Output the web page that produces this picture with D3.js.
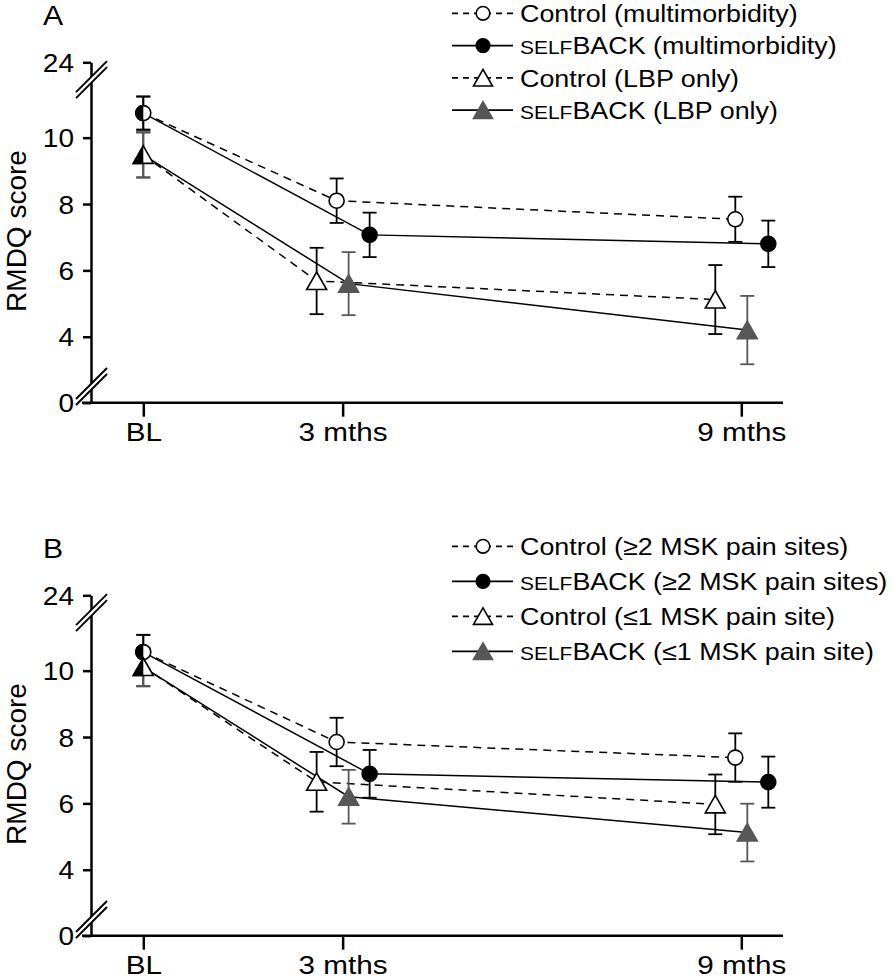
<!DOCTYPE html>
<html>
<head>
<meta charset="utf-8">
<script src="https://cdn.jsdelivr.net/npm/d3@7"></script>
<style>
  html, body { margin: 0; padding: 0; background: #ffffff; }
  svg { display: block; }
  text { font-family: "Liberation Sans", Arial, Helvetica, sans-serif; fill: #000; }
</style>
</head>
<body>
<div id="chart"></div>
<script>
// ---------------- DATA ----------------
const timepoints = [0, 3, 9];                 // months
const xLabels = ["BL", "3 mths", "9 mths"];
const yTicks = [0, 4, 6, 8, 10, 24];
const yBreaks = [2.5, 11.75];                 // axis break positions (value space)

// Panel A
const labelsA = ["Control (multimorbidity)", "SELFBACK (multimorbidity)", "Control (LBP only)", "SELFBACK (LBP only)"];
const ctrlMultiMean = [10.74, 8.10, 7.54];
const ctrlMultiErr  = [0.50, 0.67, 0.68];
const sbMultiMean   = [10.74, 7.07, 6.80];
const sbMultiErr    = [0.50, 0.67, 0.70];
const ctrlLbpMean   = [9.48, 5.68, 5.12];
const ctrlLbpErr    = [0.68, 1.00, 1.04];
const sbLbpMean     = [9.48, 5.60, 4.20];
const sbLbpErr      = [0.68, 0.95, 1.03];

// Panel B
const labelsB = ["Control (\u22652 MSK pain sites)", "SELFBACK (\u22652 MSK pain sites)", "Control (\u22641 MSK pain site)", "SELFBACK (\u22641 MSK pain site)"];
const ctrlMsk2Mean = [10.56, 7.85, 7.38];
const ctrlMsk2Err  = [0.52, 0.73, 0.73];
const sbMsk2Mean   = [10.56, 6.89, 6.64];
const sbMsk2Err    = [0.52, 0.72, 0.77];
const ctrlMsk1Mean = [10.11, 6.65, 5.97];
const ctrlMsk1Err  = [0.58, 0.90, 0.90];
const sbMsk1Mean   = [10.11, 6.20, 5.12];
const sbMsk1Err    = [0.58, 0.81, 0.87];

// ---------------- STYLE / LAYOUT ----------------
const W = 896, H = 980;
const SX = 1.12;            // horizontal stretch of text seen in the reference
const GRAY = "#575757";
const styles = [
  { shape: "circle",   fill: "#fff", stroke: "#000", dashed: true,  dx: -6,  half: false },
  { shape: "circle",   fill: "#000", stroke: "#000", dashed: false, dx: 27,  half: true  },
  { shape: "triangle", fill: "#fff", stroke: "#000", dashed: true,  dx: -26, half: false },
  { shape: "triangle", fill: GRAY,   stroke: GRAY,   dashed: false, dx: 6,   half: true  }
];

const panels = [
  { id: "A", top: 0,   legendStep: 32.3, labels: labelsA,
    means: [ctrlMultiMean, sbMultiMean, ctrlLbpMean, sbLbpMean],
    errs:  [ctrlMultiErr, sbMultiErr, ctrlLbpErr, sbLbpErr] },
  { id: "B", top: 533, legendStep: 35, labels: labelsB,
    means: [ctrlMsk2Mean, sbMsk2Mean, ctrlMsk1Mean, sbMsk1Mean],
    errs:  [ctrlMsk2Err, sbMsk2Err, ctrlMsk1Err, sbMsk1Err] }
];

const svg = d3.select("#chart").append("svg").attr("width", W).attr("height", H);

const xScale = d3.scaleLinear().domain([0, 9]).range([143.3, 741.3]);
const AXIS_X = 91;

function markerPath(shape, r) {
  if (shape === "circle") {
    const rr = r || 7.5;
    return `M${-rr},0A${rr},${rr} 0 1,0 ${rr},0A${rr},${rr} 0 1,0 ${-rr},0Z`;
  }
  const s = r || 10;
  return `M0,${-s * 1.0}L${s},${s * 0.75}L${-s},${s * 0.75}Z`;
}

function stretchedText(sel, x, y, str, size, anchor) {
  return sel.append("text")
    .attr("transform", `translate(${x},${y}) scale(${SX},1)`)
    .attr("text-anchor", anchor || "start")
    .attr("font-size", size)
    .text(str);
}

// clip for half markers at baseline
const defs = svg.append("defs");
defs.append("clipPath").attr("id", "leftHalf")
  .append("rect").attr("x", xScale(0) - 20).attr("y", 0).attr("width", 20).attr("height", H);

panels.forEach(p => {
  const g = svg.append("g").attr("transform", `translate(0,${p.top})`);
  const y = d3.scaleLinear().domain([0, 2.5, 11.75, 24]).range([402.7, 386.5, 79.6, 62.3]);

  // panel letter
  stretchedText(g, 43, 25, p.id, 27, "start");

  // y axis label
  g.append("text")
    .attr("transform", `translate(25.5,231) rotate(-90)`)
    .attr("text-anchor", "middle")
    .attr("font-size", 28)
    .text("RMDQ score");

  // y axis via d3
  const yAxis = d3.axisLeft(y).tickValues(yTicks).tickSize(8).tickSizeOuter(0).tickFormat(d3.format("d"));
  const ya = g.append("g").attr("transform", `translate(${AXIS_X},0)`).call(yAxis);
  ya.select(".domain").attr("stroke", "#000").attr("stroke-width", 2.5);
  ya.selectAll(".tick line").attr("stroke", "#000").attr("stroke-width", 2.5);
  ya.selectAll(".tick text")
    .attr("x", null).attr("dy", null)
    .attr("transform", `translate(-17,9) scale(${SX},1)`)
    .attr("font-size", 25)
    .attr("fill", "#000");
  ya.attr("font-family", null).attr("font-size", null);

  // x axis
  g.append("line").attr("x1", 82).attr("x2", 783).attr("y1", y(0)).attr("y2", y(0))
    .attr("stroke", "#000").attr("stroke-width", 2.5);
  const xAxis = d3.axisBottom(xScale).tickValues(timepoints).tickSize(14).tickSizeOuter(0)
    .tickFormat((d, i) => xLabels[i]);
  const xa = g.append("g").attr("transform", `translate(0,${y(0)})`).call(xAxis);
  xa.select(".domain").remove();
  xa.selectAll(".tick line").attr("stroke", "#000").attr("stroke-width", 2.5);
  xa.selectAll(".tick text")
    .attr("y", null).attr("dy", null)
    .attr("transform", `translate(0,38.5) scale(${SX},1)`)
    .attr("font-size", 26.5)
    .attr("fill", "#000");
  xa.attr("font-family", null).attr("font-size", null);

  // axis breaks
  yBreaks.forEach(b => {
    const yb = y(b);
    const x1 = 76, x2 = 107, h = 15.5, o = 3;
    g.append("polygon")
      .attr("points", `${x1},${yb + h - o} ${x2},${yb - h - o} ${x2},${yb - h + o} ${x1},${yb + h + o}`)
      .attr("fill", "#fff");
    [-o, o].forEach(d => {
      g.append("line").attr("x1", x1).attr("y1", yb + h + d).attr("x2", x2).attr("y2", yb - h + d)
        .attr("stroke", "#000").attr("stroke-width", 2);
    });
  });

  // build series
  const series = p.means.map((m, si) => ({
    st: styles[si],
    pts: m.map((v, i) => ({
      x: xScale(timepoints[i]) + (i === 0 ? 0 : styles[si].dx),
      y: y(v), hi: y(v + p.errs[si][i]), lo: y(v - p.errs[si][i]), i
    }))
  }));

  const line = d3.line().x(d => d.x).y(d => d.y);

  // connecting lines
  series.forEach(s => {
    g.append("path").attr("d", line(s.pts))
      .attr("fill", "none").attr("stroke", "#000").attr("stroke-width", 1.5)
      .attr("stroke-dasharray", s.st.dashed ? "8,6" : null);
  });

  // error bars
  series.forEach(s => {
    const col = s.st.stroke;
    s.pts.forEach(d => {
      const eg = g.append("g").attr("stroke", col).attr("stroke-width", 1.8);
      eg.append("line").attr("x1", d.x).attr("x2", d.x).attr("y1", d.hi).attr("y2", d.lo);
      eg.append("line").attr("x1", d.x - 7).attr("x2", d.x + 7).attr("y1", d.hi).attr("y2", d.hi);
      eg.append("line").attr("x1", d.x - 7).attr("x2", d.x + 7).attr("y1", d.lo).attr("y2", d.lo);
    });
  });

  // markers: controls first, then SELFBACK (left-half at baseline)
  [0, 2, 1, 3].forEach(si => {
    const s = series[si];
    s.pts.forEach(d => {
      const m = g.append("path")
        .attr("d", markerPath(s.st.shape))
        .attr("transform", `translate(${d.x},${d.y + (s.st.shape === "triangle" ? 1 : 0)})`)
        .attr("fill", s.st.fill).attr("stroke", s.st.stroke).attr("stroke-width", 1.6);
      if (s.st.half && d.i === 0) {
        m.attr("fill", s.st.shape === "triangle" ? "#000" : s.st.fill).attr("stroke", "#000");
        const wrap = g.append("g").attr("clip-path", "url(#leftHalf)");
        wrap.node().appendChild(m.node());
      }
    });
  });

  // legend
  p.labels.forEach((lab, i) => {
    const st = styles[i];
    const ly = 13.3 + i * p.legendStep;
    g.append("line").attr("x1", 452).attr("x2", 513).attr("y1", ly).attr("y2", ly)
      .attr("stroke", "#000").attr("stroke-width", 1.8)
      .attr("stroke-dasharray", st.dashed ? "6,5" : null);
    g.append("path").attr("d", markerPath(st.shape, st.shape === "circle" ? 6.8 : 9.5))
      .attr("transform", `translate(483,${ly + (st.shape === "triangle" ? 1 : 0)})`)
      .attr("fill", st.fill).attr("stroke", st.stroke).attr("stroke-width", 1.6);
    const t = g.append("text")
      .attr("transform", `translate(520,${ly + 8.6}) scale(${SX},1)`)
      .attr("font-size", 24);
    if (lab.startsWith("SELF")) {
      t.append("tspan").attr("font-size", 24 * 0.78).text("SELF");
      t.append("tspan").text(lab.slice(4));
    } else {
      t.text(lab);
    }
  });
});
</script>
</body>
</html>
